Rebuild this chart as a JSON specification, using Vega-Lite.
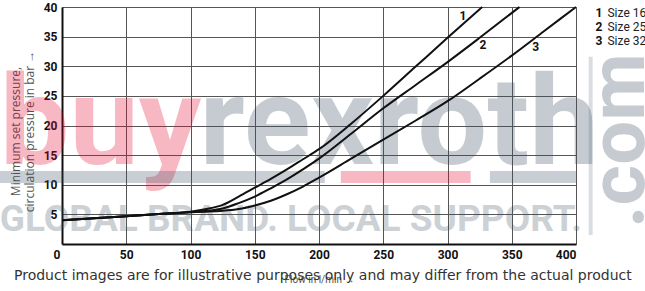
{
  "$schema": "https://vega.github.io/schema/vega-lite/v6.json",
  "width": 514,
  "height": 237,
  "autosize": "none",
  "padding": {"left": 62, "top": 7, "right": 69, "bottom": 47},
  "background": "white",
  "config": {"view": {"stroke": null}},
  "datasets": {
    "curves": [
      {"size": "1", "x": 0, "y": 4.0}, {"size": "1", "x": 25, "y": 4.35}, {"size": "1", "x": 50, "y": 4.7}, {"size": "1", "x": 75, "y": 5.05}, {"size": "1", "x": 100, "y": 5.45}, {"size": "1", "x": 112.5, "y": 5.9}, {"size": "1", "x": 125, "y": 6.6}, {"size": "1", "x": 137.5, "y": 8.0}, {"size": "1", "x": 150, "y": 9.5}, {"size": "1", "x": 162.5, "y": 11.0}, {"size": "1", "x": 175, "y": 12.6}, {"size": "1", "x": 187.5, "y": 14.3}, {"size": "1", "x": 200, "y": 16.0}, {"size": "1", "x": 225, "y": 20.3}, {"size": "1", "x": 250, "y": 25.0}, {"size": "1", "x": 275, "y": 29.9}, {"size": "1", "x": 300, "y": 34.8}, {"size": "1", "x": 327, "y": 40},
      {"size": "2", "x": 0, "y": 4.0}, {"size": "2", "x": 50, "y": 4.7}, {"size": "2", "x": 100, "y": 5.4}, {"size": "2", "x": 112.5, "y": 5.6}, {"size": "2", "x": 125, "y": 6.0}, {"size": "2", "x": 137.5, "y": 6.9}, {"size": "2", "x": 150, "y": 8.0}, {"size": "2", "x": 162.5, "y": 9.4}, {"size": "2", "x": 175, "y": 10.9}, {"size": "2", "x": 187.5, "y": 12.6}, {"size": "2", "x": 200, "y": 14.4}, {"size": "2", "x": 225, "y": 18.6}, {"size": "2", "x": 250, "y": 22.9}, {"size": "2", "x": 275, "y": 26.8}, {"size": "2", "x": 300, "y": 30.7}, {"size": "2", "x": 325, "y": 34.8}, {"size": "2", "x": 356, "y": 40},
      {"size": "3", "x": 0, "y": 4.0}, {"size": "3", "x": 50, "y": 4.7}, {"size": "3", "x": 100, "y": 5.35}, {"size": "3", "x": 112.5, "y": 5.45}, {"size": "3", "x": 125, "y": 5.6}, {"size": "3", "x": 137.5, "y": 5.9}, {"size": "3", "x": 150, "y": 6.5}, {"size": "3", "x": 162.5, "y": 7.3}, {"size": "3", "x": 175, "y": 8.4}, {"size": "3", "x": 187.5, "y": 9.7}, {"size": "3", "x": 200, "y": 11.2}, {"size": "3", "x": 225, "y": 14.4}, {"size": "3", "x": 250, "y": 17.6}, {"size": "3", "x": 275, "y": 20.8}, {"size": "3", "x": 300, "y": 24.1}, {"size": "3", "x": 325, "y": 27.9}, {"size": "3", "x": 350, "y": 31.8}, {"size": "3", "x": 375, "y": 35.9}, {"size": "3", "x": 400, "y": 40}
    ],
    "curveLabels": [
      {"label": "1", "x": 312, "y": 38.5},
      {"label": "2", "x": 327.6, "y": 33.6},
      {"label": "3", "x": 368.6, "y": 33.3}
    ],
    "legendNums": [
      {"t": "1", "x": 417.9, "y": 39.0},
      {"t": "2", "x": 417.9, "y": 36.7},
      {"t": "3", "x": 417.9, "y": 34.3}
    ],
    "legendNames": [
      {"t": "Size 16", "x": 424.5, "y": 39.0},
      {"t": "Size 25", "x": 424.5, "y": 36.7},
      {"t": "Size 32", "x": 424.5, "y": 34.3}
    ]
  },
  "encoding": {
    "x": {
      "field": "x", "type": "quantitative",
      "scale": {"domain": [0, 400], "nice": false},
      "axis": {
        "values": [0, 50, 100, 150, 200, 250, 300, 350, 400],
        "grid": true, "gridColor": "#555555", "gridWidth": 1,
        "domain": true, "domainColor": "#111111", "domainWidth": 2,
        "ticks": true, "tickSize": 0, "tickOpacity": 0,
        "labelFont": "Roboto", "labelFontWeight": "bold", "labelFontSize": 12, "labelColor": "#111111",
        "labelPadding": 5,
        "labelOffset": {"condition": {"test": "datum.value == 0", "value": -9}, "value": 0},
        "title": "Flow in l/min →",
        "titleFont": "Roboto", "titleFontSize": 10, "titleFontWeight": "normal", "titleColor": "#555555",
        "titlePadding": 14
      }
    },
    "y": {
      "field": "y", "type": "quantitative",
      "scale": {"domain": [0, 40], "nice": false},
      "axis": {
        "values": [5, 10, 15, 20, 25, 30, 35, 40],
        "grid": true, "gridColor": "#555555", "gridWidth": 1,
        "domain": true, "domainColor": "#111111", "domainWidth": 2,
        "ticks": true, "tickSize": 0, "tickOpacity": 0,
        "labelFont": "Roboto", "labelFontWeight": "bold", "labelFontSize": 12, "labelColor": "#111111",
        "labelPadding": 5,
        "title": ["Minimum set pressure,", "circulation pressure in bar →"],
        "titleFont": "Open Sans", "titleFontSize": 12, "titleFontWeight": "normal", "titleColor": "#555555",
        "titleLineHeight": 14,
        "titleY": 124,
        "titlePadding": 7
      }
    }
  },
  "layer": [
    {
      "data": {"values": [{"x": -48.5, "y": 13.5}]},
      "mark": {"type": "text", "text": "buy", "font": "Roboto", "fontWeight": "bold", "fontSize": 124, "color": "#e4002b", "opacity": 0.28, "align": "left", "baseline": "alphabetic"}
    },
    {
      "data": {"values": [{"x": 107, "y": 13.5}]},
      "mark": {"type": "text", "text": "rexroth", "font": "Roboto", "fontWeight": "bold", "fontSize": 124, "color": "#3d5066", "opacity": 0.29, "align": "left", "baseline": "alphabetic"}
    },
    {
      "data": {"values": [{"x": -48.5, "x2": 204.5, "y": 12.3, "y2": 10.3, "c": "g"}, {"x": 217, "x2": 318, "y": 12.3, "y2": 10.3, "c": "p"}, {"x": 333, "x2": 400, "y": 12.3, "y2": 10.3, "c": "g"}]},
      "mark": {"type": "rect", "opacity": 0.28},
      "encoding": {
        "x2": {"field": "x2"},
        "y2": {"field": "y2"},
        "color": {"field": "c", "type": "nominal", "scale": {"domain": ["g", "p"], "range": ["#3d5066", "#e4002b"]}, "legend": null}
      }
    },
    {
      "data": {"values": [{"x": -48.5, "y": 2.2}]},
      "mark": {"type": "text", "text": "GLOBAL BRAND. LOCAL SUPPORT.", "font": "Roboto", "fontWeight": "bold", "fontSize": 37, "color": "#3d5066", "opacity": 0.26, "align": "left", "baseline": "alphabetic"}
    },
    {
      "data": {"values": [{"x": 453, "y": 2.7}]},
      "mark": {"type": "text", "text": ".com", "font": "Roboto", "fontWeight": "bold", "fontSize": 78, "color": "#3d5066", "opacity": 0.29, "align": "left", "baseline": "alphabetic", "angle": 270}
    },
    {
      "data": {"values": [{"x": 411.4, "y": 31.6, "y2": 1.5}]},
      "mark": {"type": "rule", "color": "#3d5066", "opacity": 0.19, "strokeWidth": 4},
      "encoding": {"y2": {"field": "y2"}}
    },
    {
      "data": {"name": "curves"},
      "mark": {"type": "line", "interpolate": "monotone", "color": "#111111", "strokeWidth": 2},
      "encoding": {"detail": {"field": "size", "type": "nominal"}}
    },
    {
      "data": {"name": "curveLabels"},
      "mark": {"type": "text", "font": "Roboto", "fontWeight": "bold", "fontSize": 12, "color": "#111111", "baseline": "middle"},
      "encoding": {"text": {"field": "label"}}
    },
    {
      "data": {"name": "legendNums"},
      "mark": {"type": "text", "font": "Roboto", "fontWeight": "bold", "fontSize": 12, "color": "#111111", "baseline": "middle", "align": "center"},
      "encoding": {"text": {"field": "t"}}
    },
    {
      "data": {"name": "legendNames"},
      "mark": {"type": "text", "font": "Roboto", "fontSize": 12, "color": "#222222", "baseline": "middle", "align": "left"},
      "encoding": {"text": {"field": "t"}}
    },
    {
      "data": {"values": [{"x": 203, "y": -5.4}]},
      "mark": {"type": "text", "text": "Product images are for illustrative purposes only and may differ from the actual product", "font": "DejaVu Sans", "fontSize": 14, "color": "#333333", "align": "center", "baseline": "middle"}
    }
  ]
}
